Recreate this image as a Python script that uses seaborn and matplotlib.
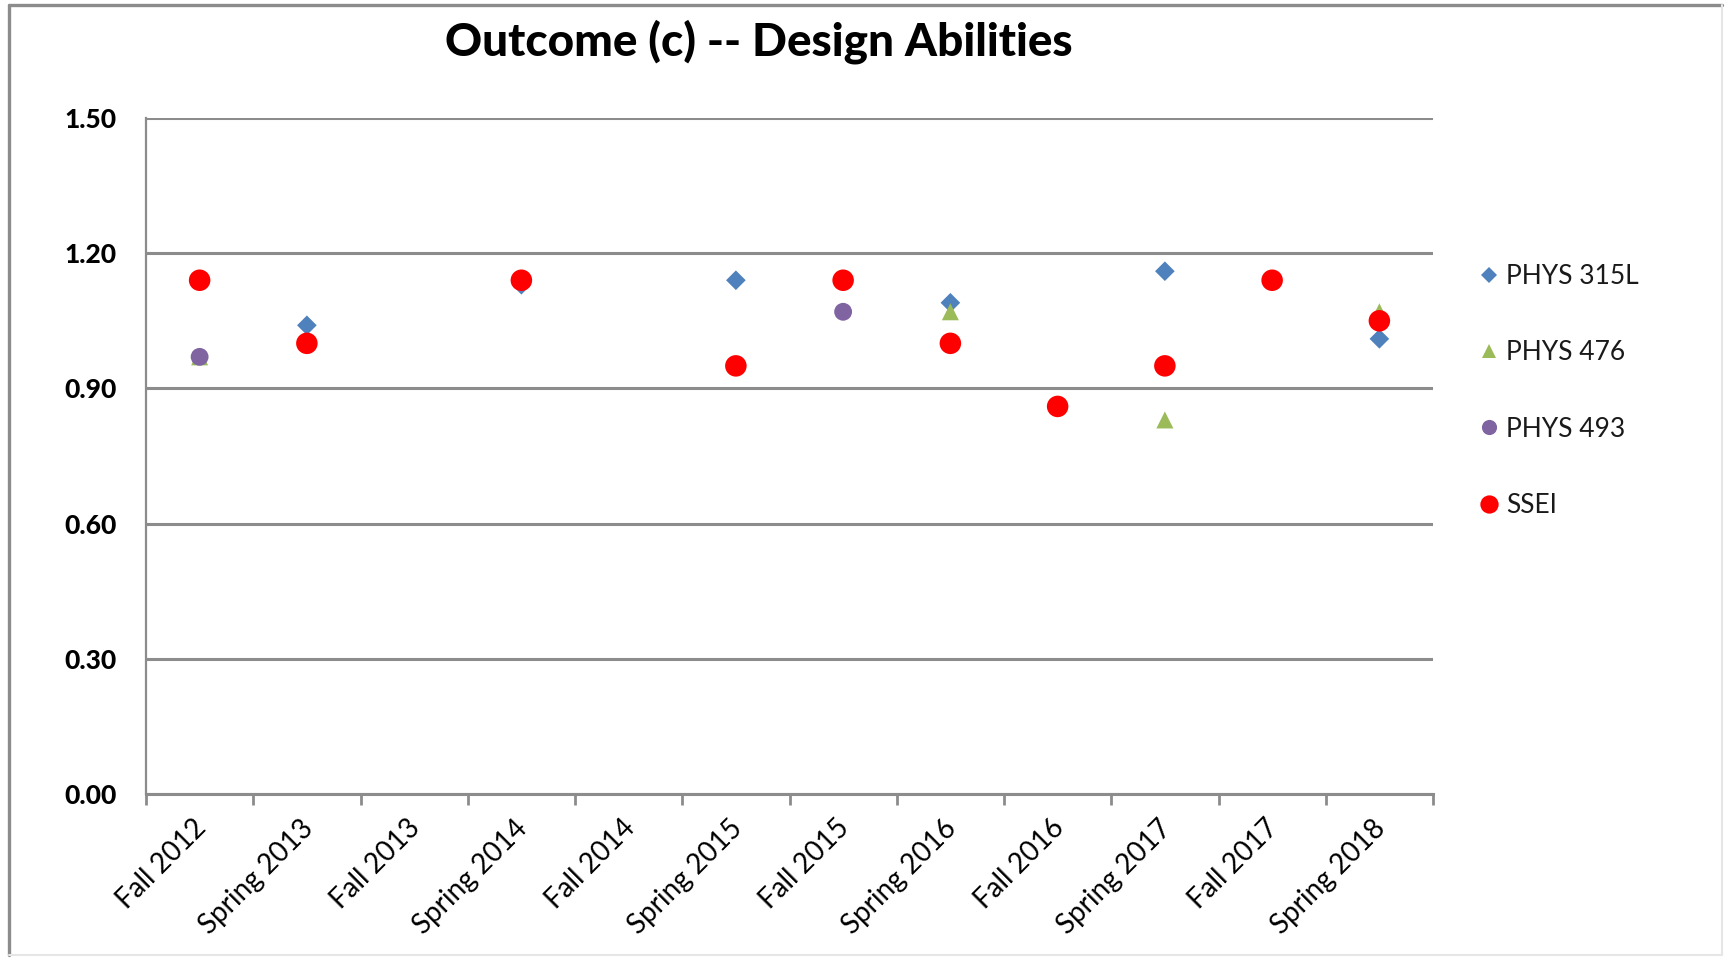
import matplotlib
matplotlib.use("Agg")
import matplotlib.pyplot as plt
from matplotlib.lines import Line2D
from matplotlib.transforms import ScaledTranslation
import seaborn as sns
import pandas as pd

# Semesters on the category axis
terms = ["Fall 2012", "Spring 2013", "Fall 2013", "Spring 2014", "Fall 2014",
         "Spring 2015", "Fall 2015", "Spring 2016", "Fall 2016", "Spring 2017",
         "Fall 2017", "Spring 2018"]

series_names = ["PHYS 315L", "PHYS 476", "PHYS 493", "SSEI"]

# Scores per series (None = not assessed that term)
phys_315l = [None, 1.04, None, 1.13, None, 1.14, None, 1.09, None, 1.16, None, 1.01]
phys_476 = [0.97, None, None, None, None, None, None, 1.07, None, 0.83, None, 1.07]
phys_493 = [0.97, None, None, None, None, None, 1.07, None, None, None, None, None]
ssei = [1.14, 1.00, None, 1.14, None, 0.95, 1.14, 1.00, 0.86, 0.95, 1.14, 1.05]

y_ticks = [0.00, 0.30, 0.60, 0.90, 1.20, 1.50]

colors = {"PHYS 315L": "#4F81BD", "PHYS 476": "#9BBB59",
          "PHYS 493": "#8064A2", "SSEI": "#FF0000"}
markers = {"PHYS 315L": "D", "PHYS 476": "^", "PHYS 493": "o", "SSEI": "o"}
sizes = {"PHYS 315L": 100, "PHYS 476": 150, "PHYS 493": 165, "SSEI": 240}

rows = []
for name, vals in zip(series_names, [phys_315l, phys_476, phys_493, ssei]):
    for term, v in zip(terms, vals):
        if v is not None:
            rows.append({"pos": terms.index(term), "term": term,
                         "score": v, "series": name})
df = pd.DataFrame(rows)

sns.set_theme(style="white")
plt.rcParams["font.family"] = ["Lato", "DejaVu Sans"]
plt.rcParams["text.color"] = "black"
plt.rcParams["xtick.color"] = "black"
plt.rcParams["ytick.color"] = "black"

fig = plt.figure(figsize=(17.3, 9.6), dpi=100)
ax = fig.add_axes([146 / 1730, 1 - 794 / 960, (1433 - 146) / 1730, (794 - 118) / 960])

# gridlines behind the markers
ax.set_axisbelow(True)
ax.yaxis.grid(True, color="#8C8C8C", linewidth=2.2)

sns.scatterplot(data=df, x="pos", y="score", hue="series", style="series",
                size="series", hue_order=series_names, style_order=series_names,
                size_order=series_names, palette=colors, markers=markers,
                sizes=sizes, linewidth=0, ax=ax, zorder=3, clip_on=False)

ax.set_xlim(-0.5, len(terms) - 0.5)
ax.set_ylim(0, 1.5)
ax.set_yticks(y_ticks)
ax.set_yticklabels([f"{t:.2f}" for t in y_ticks], fontsize=19, fontweight="black")
ax.tick_params(axis="y", length=0, pad=21)

# category boundaries as ticks, names centred between them
ax.set_xticks([i - 0.5 for i in range(len(terms) + 1)])
ax.set_xticklabels([])
ax.tick_params(axis="x", which="major", length=8, width=2, color="#8C8C8C",
               direction="out", bottom=True)
ax.set_xticks(range(len(terms)), minor=True)
ax.set_xticklabels(terms, minor=True, rotation=45, ha="right",
                   rotation_mode="anchor", fontsize=20)
ax.tick_params(axis="x", which="minor", length=0, pad=15)
shift = ScaledTranslation(-7 / 100, 0, fig.dpi_scale_trans)
for lbl in ax.get_xticklabels(minor=True):
    lbl.set_transform(lbl.get_transform() + shift)

ax.set_xlabel("")
ax.set_ylabel("")
for side in ["top", "right"]:
    ax.spines[side].set_visible(False)
ax.spines["left"].set_color("#8C8C8C")
ax.spines["left"].set_linewidth(1.6)
ax.spines["bottom"].set_color("#8C8C8C")
ax.spines["bottom"].set_linewidth(2.2)

fig.text(759 / 1730, 1 - 42 / 960, "Outcome (c) -- Design Abilities",
         ha="center", va="center", fontsize=33, fontweight="black")

sns.move_legend(ax, loc="upper left", bbox_to_anchor=(1439 / 1730, 1 - 240 / 960),
                bbox_transform=fig.transFigure, frameon=False, title=None,
                fontsize=19, labelspacing=1.95, handletextpad=-0.35,
                markerscale=0.85)
leg = ax.get_legend()
for txt in leg.get_texts():
    txt.set_color("#1a1a1a")

# chart border: darker on the left and top edges, faint on the right and bottom
x0, x1, y0, y1 = 9 / 1730, 1722 / 1730, 1 - 955 / 960, 1 - 5 / 960
fig.lines.extend([
    Line2D([x0, x0], [y0, y1], transform=fig.transFigure, color="#8C8C8C", lw=2.4),
    Line2D([x0, x1], [y1, y1], transform=fig.transFigure, color="#8C8C8C", lw=2.4),
    Line2D([x1, x1], [y0, y1], transform=fig.transFigure, color="#E6E6E6", lw=1.5),
    Line2D([x0, x1], [y0, y0], transform=fig.transFigure, color="#E6E6E6", lw=1.5),
])

fig.savefig("out.png", dpi=100)
